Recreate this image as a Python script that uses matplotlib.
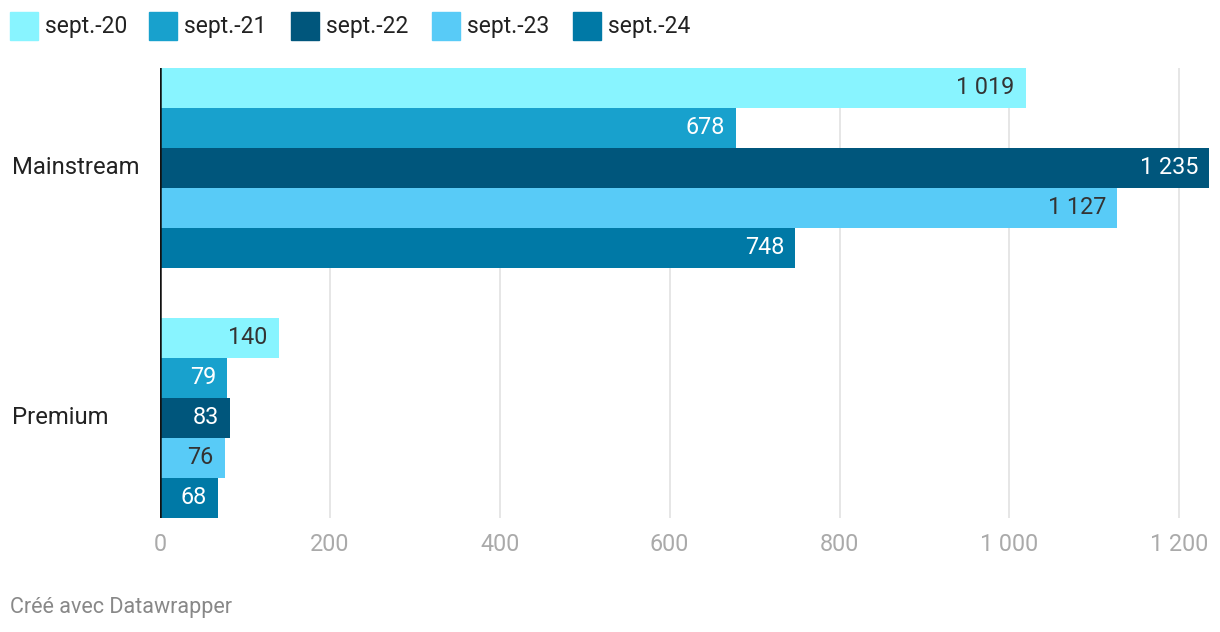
import matplotlib
matplotlib.use("Agg")
import matplotlib.pyplot as plt
from matplotlib.patches import Rectangle

plt.rcParams['font.family'] = ['Roboto', 'DejaVu Sans']

categories = ["Mainstream", "Premium"]
series = ["sept.-20", "sept.-21", "sept.-22", "sept.-23", "sept.-24"]
values = {
    "sept.-20": [1019, 140],
    "sept.-21": [678, 79],
    "sept.-22": [1235, 83],
    "sept.-23": [1127, 76],
    "sept.-24": [748, 68],
}
colors = ["#88F4FF", "#18A1CD", "#00567C", "#58CBF7", "#0079A6"]
label_colors = ["#333333", "#ffffff", "#ffffff", "#333333", "#ffffff"]
xticks = [0, 200, 400, 600, 800, 1000, 1200]
xtick_labels = ["0", "200", "400", "600", "800", "1 000", "1 200"]

W, H = 1220, 632
fig = plt.figure(figsize=(W / 100, H / 100), dpi=100)
ax_left, ax_right, ax_top, ax_bot = 160, 1209, 68, 518
ax = fig.add_axes([ax_left / W, 1 - ax_bot / H, (ax_right - ax_left) / W, (ax_bot - ax_top) / H])

group_step = 6.25
for g, cat in enumerate(categories):
    for i, s in enumerate(series):
        y = g * group_step + i + 0.5
        v = values[s][g]
        ax.barh(y, v, height=1.0, color=colors[i], zorder=2)
        lab = f"{v:,}".replace(",", " ")
        ax.annotate(lab, (v, y), xytext=(-8, 0), textcoords="offset points",
                    ha="right", va="center", fontsize=16.8, color=label_colors[i], zorder=3)

ax.set_xlim(0, 1235)
ax.set_ylim(2 * group_step - 1.25, 0)
for t in xticks[1:]:
    ax.axvline(t, color="#e2e2e2", lw=1.2, zorder=1)
ax.axvline(0, color="#111111", lw=1.8, zorder=4)
for sp in ax.spines.values():
    sp.set_visible(False)
ax.set_xticks(xticks)
ax.set_xticklabels(xtick_labels, fontsize=16.8, color="#aaaaaa")
ax.tick_params(axis="x", length=0, pad=11)
ax.set_yticks([g * group_step + 2.5 for g in range(len(categories))])
ax.set_yticklabels([])
ax.tick_params(axis="y", length=0)
for g, cat in enumerate(categories):
    ax.annotate(cat, (0, g * group_step + 2.5), xycoords=("figure pixels", "data"),
                xytext=(12, 0), textcoords="offset pixels",
                ha="left", va="center", fontsize=17.2, color="#222222")

# legend
leg_x = [10, 149, 291, 432, 573]
for i, s in enumerate(series):
    x0 = leg_x[i]
    fig.patches.append(Rectangle((x0 / W, 1 - 40 / H), 28 / W, 28 / H,
                                 transform=fig.transFigure, color=colors[i]))
    fig.text((x0 + 35) / W, 1 - 26 / H, s, ha="left", va="center",
             fontsize=16.5, color="#222222")

fig.text(10 / W, 1 - 607 / H, "Créé avec Datawrapper", ha="left", va="center",
         fontsize=15.5, color="#888888")

fig.savefig("out.png", dpi=100)
